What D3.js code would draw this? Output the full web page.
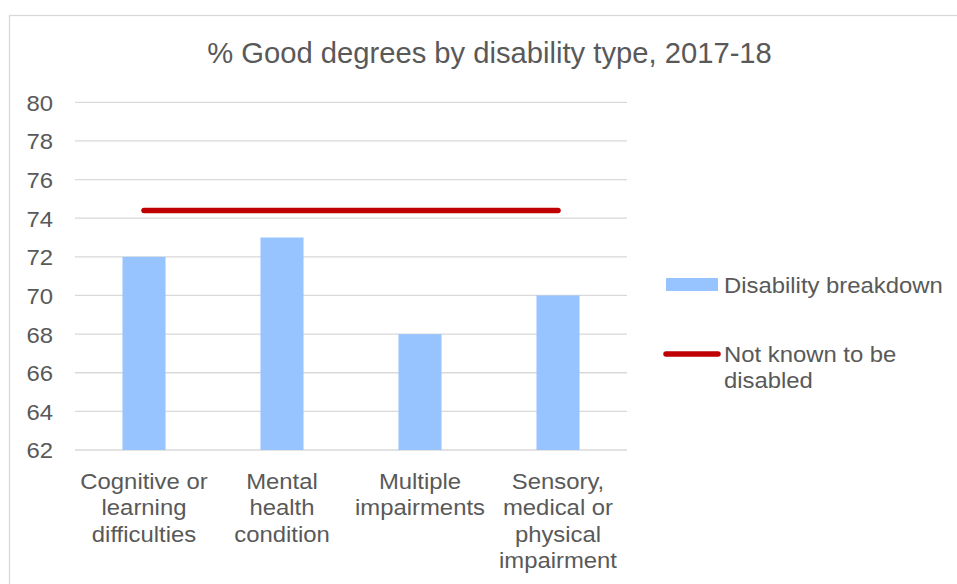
<!DOCTYPE html>
<html>
<head>
<meta charset="utf-8">
<script src="https://cdn.jsdelivr.net/npm/d3@7"></script>
<style>
  html, body { margin: 0; padding: 0; background: #fff; }
  svg { display: block; font-family: "Liberation Sans", Arial, sans-serif; }
</style>
</head>
<body>
<svg id="chart" width="957" height="584"></svg>
<script>
// ---- data ----
const title = "% Good degrees by disability type, 2017-18";
const categories = [
  "Cognitive or learning difficulties",
  "Mental health condition",
  "Multiple impairments",
  "Sensory, medical or physical impairment"
];
const categoryLabelLines = [
  ["Cognitive or", "learning", "difficulties"],
  ["Mental", "health", "condition"],
  ["Multiple", "impairments"],
  ["Sensory,", "medical or", "physical", "impairment"]
];
const disabilityBreakdown = [72, 73, 68, 70];
const notKnownToBeDisabled = [74.4, 74.4, 74.4, 74.4];
const yTicks = [62, 64, 66, 68, 70, 72, 74, 76, 78, 80];
const seriesNames = ["Disability breakdown", "Not known to be disabled"];
const legendLines = [["Disability breakdown"], ["Not known to be", "disabled"]];

// ---- layout ----
const svg = d3.select("#chart");
const textColor = "#595959";
const gridColor = "#d9d9d9";
const barColor = "#97c3ff";
const lineColor = "#c00000";
const fontSize = 22;
const lineH = 26.5;
const sx = 1.085; // horizontal stretch of label text

const plot = { left: 75, right: 627, top: 102.3, bottom: 450 };

// chart border
svg.append("rect")
  .attr("x", 9.5).attr("y", 15.5)
  .attr("width", 1000).attr("height", 700)
  .attr("fill", "#fff").attr("stroke", gridColor).attr("stroke-width", 1.3);

// title
svg.append("text")
  .attr("x", 489.5).attr("y", 63)
  .attr("text-anchor", "middle")
  .attr("fill", textColor)
  .attr("font-size", 29.2)
  .text(title);

const x = d3.scaleBand().domain(categories).range([plot.left, plot.right]).padding(0);
const y = d3.scaleLinear().domain([62, 80]).range([plot.bottom, plot.top]);
const barW = x.bandwidth() * 0.312;

// gridlines
svg.append("g").selectAll("line").data(yTicks).join("line")
  .attr("x1", plot.left).attr("x2", plot.right)
  .attr("y1", d => y(d)).attr("y2", d => y(d))
  .attr("stroke", gridColor).attr("stroke-width", 1.3);

// y axis labels
const yAxis = d3.axisLeft(y).tickValues(yTicks).tickSize(0).tickPadding(0);
const yg = svg.append("g").attr("transform", `translate(53,0)`).call(yAxis);
yg.select(".domain").remove();
yg.selectAll("text")
  .attr("fill", textColor)
  .attr("font-size", fontSize)
  .attr("font-family", "'Liberation Sans', Arial, sans-serif")
  .attr("x", 0)
  .attr("dy", "0.36em")
  .attr("transform", `scale(${sx},1)`);

// bars
svg.append("g").selectAll("rect").data(categories).join("rect")
  .attr("x", d => x(d) + x.bandwidth() / 2 - barW / 2)
  .attr("width", barW)
  .attr("y", (d, i) => y(disabilityBreakdown[i]))
  .attr("height", (d, i) => y(62) - y(disabilityBreakdown[i]))
  .attr("fill", barColor);

// line
const line = d3.line()
  .x((d, i) => x(categories[i]) + x.bandwidth() / 2)
  .y(d => y(d));
svg.append("path")
  .datum(notKnownToBeDisabled)
  .attr("d", line)
  .attr("fill", "none")
  .attr("stroke", lineColor)
  .attr("stroke-width", 5.5)
  .attr("stroke-linecap", "round");

// helper: multi-line stretched text
function multiText(parent, px, py, lines, anchor) {
  const t = parent.append("text")
    .attr("transform", `translate(${px},${py}) scale(${sx},1)`)
    .attr("text-anchor", anchor)
    .attr("fill", textColor)
    .attr("font-size", fontSize);
  lines.forEach((ln, j) => {
    t.append("tspan").attr("x", 0).attr("y", j * lineH).text(ln);
  });
  return t;
}

// category labels
const xl = svg.append("g");
categories.forEach((c, i) => {
  multiText(xl, x(c) + x.bandwidth() / 2, 489, categoryLabelLines[i], "middle");
});

// legend
const lg = svg.append("g");
lg.append("rect")
  .attr("x", 666).attr("y", 278).attr("width", 52).attr("height", 13)
  .attr("fill", barColor);
lg.append("line")
  .attr("x1", 666).attr("x2", 718).attr("y1", 354).attr("y2", 354)
  .attr("stroke", lineColor).attr("stroke-width", 5.5).attr("stroke-linecap", "round");
const legendY = [293, 362];
legendLines.forEach((lines, i) => {
  multiText(lg, 724, legendY[i], lines, "start");
});
</script>
</body>
</html>
